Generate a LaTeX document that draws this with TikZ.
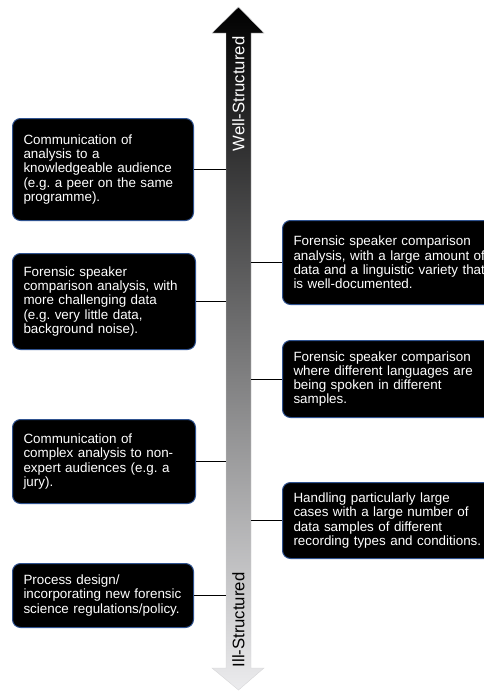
\documentclass[tikz,border=0pt]{standalone}
\usepackage{fontspec}
\setmainfont{Liberation Sans}
\usepackage{tikz}
\frenchspacing
\definecolor{boxedge}{RGB}{47,82,143}
\definecolor{tipgray}{RGB}{236,236,238}
\newcommand{\linkleft}[1]{\draw[line width=1pt] (#1.east) -- (#1.east -| shaftL);}
\newcommand{\linkright}[1]{\draw[line width=1pt] (#1.west) -- (#1.west -| shaftR);}
\tikzset{
  scenario/.style={draw=boxedge, line width=1pt, fill=black, rounded corners=8pt,
    text=white, align=left, anchor=north west, inner xsep=11pt, inner ysep=0pt,
    font=\fontsize{13.4}{14.2}\selectfont},
  axislabel/.style={rotate=90, font=\fontsize{16.7}{18}\selectfont}
}

\begin{document}
\begin{tikzpicture}[x=1pt,y=-1pt]
\useasboundingbox (0,0) rectangle (484,691);
\shade[top color=black, bottom color=tipgray, draw=tipgray!80!gray, line width=0.4pt]
  (238.5,7)--(264,33)--(251,33)--(251,668)--(264,668)--(238.5,690)--(212,668)--(226,668)--(226,33)--(212,33)--cycle;
\coordinate (shaftL) at (226,0);
\coordinate (shaftR) at (251,0);
\node[axislabel, text=white] (well) at (238.5,94) {Well-Structured};
\node[axislabel, text=black] (ill) at (238.5,620) {Ill-Structured};
\node[scenario, text width=159pt, minimum height=102pt] (left1) at (12,118)
  {Communication of\\analysis to a\\knowledgeable audience\\(e.g. a peer on the same\\programme).};
\node[scenario, text width=161pt, minimum height=96pt] (left2) at (12,253)
  {Forensic speaker\\comparison analysis, with\\more challenging data\\(e.g. very little data,\\background noise).};
\node[scenario, text width=161pt, minimum height=84pt] (left3) at (12,419)
  {Communication of\\complex analysis to non-\\expert audiences (e.g. a\\jury).};
\node[scenario, text width=159pt, minimum height=64pt] (left4) at (12,563)
  {Process design/\\incorporating new forensic\\science regulations/policy.};
\node[scenario, text width=200pt, minimum height=84pt] (right1) at (282,220)
  {Forensic speaker comparison\\analysis, with a large amount of\\data and a linguistic variety that\\is well-documented.};
\node[scenario, text width=200pt, minimum height=77pt] (right2) at (282,340)
  {Forensic speaker comparison\\where different languages are\\being spoken in different\\samples.};
\node[scenario, text width=200pt, minimum height=76pt] (right3) at (282,482)
  {Handling particularly large\\cases with a large number of\\data samples of different\\recording types and conditions.};
\linkleft{left1}\linkleft{left2}\linkleft{left3}\linkleft{left4}
\linkright{right1}\linkright{right2}\linkright{right3}
\end{tikzpicture}
\end{document}
